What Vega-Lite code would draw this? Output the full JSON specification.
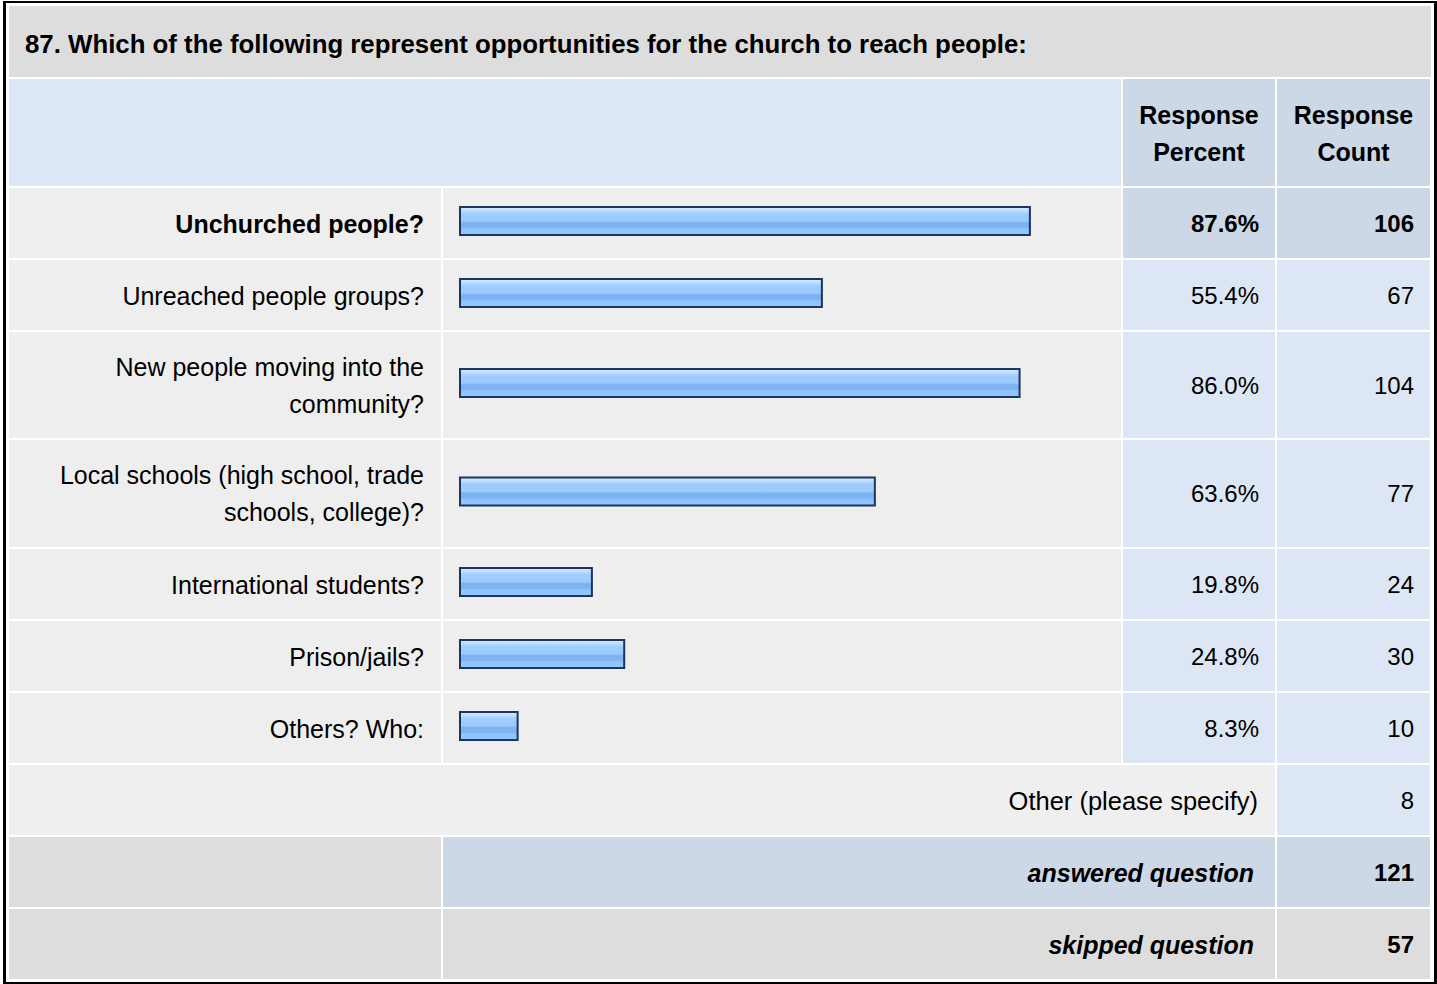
{
"$schema": "https://vega.github.io/schema/vega-lite/v6.json",
"padding": {"left": 3, "top": 1, "right": 0, "bottom": 0},
"background": "white",
"config": {"view": {"stroke": null}, "text": {"font": "Liberation Sans", "fontSize": 24, "color": "#000000", "lineHeight": 37, "baseline": "middle", "dy": 1.5}},
"datasets": {
 "answers": [
  {"row": 1, "label": "Unchurched people?", "percent": 0.876, "count": 106},
  {"row": 2, "label": "Unreached people groups?", "percent": 0.554, "count": 67},
  {"row": 3, "label": ["New people moving into the", "community?"], "percent": 0.860, "count": 104},
  {"row": 4, "label": ["Local schools (high school, trade", "schools, college)?"], "percent": 0.636, "count": 77},
  {"row": 5, "label": "International students?", "percent": 0.198, "count": 24},
  {"row": 6, "label": "Prison/jails?", "percent": 0.248, "count": 30},
  {"row": 7, "label": "Others? Who:", "percent": 0.083, "count": 10}
 ],
 "totals": [
  {"key": "other", "label": "Other (please specify)", "count": 8},
  {"key": "answered", "label": "answered question", "count": 121},
  {"key": "skipped", "label": "skipped question", "count": 57}
 ],
 "blank": [{}]
},
"vconcat": [
 {"width": 1434, "height": 2, "view": {"fill": "#000000"}, "data": {"name": "blank"}, "mark": {"type": "text", "text": "", "fontSize": 0, "dy": 0}},
 {"hconcat": [
  {"width": 3, "height": 979, "view": {"fill": "#000000"}, "data": {"name": "blank"}, "mark": {"type": "text", "text": "", "fontSize": 0, "dy": 0}},
  {"vconcat": [
   {"width": 1422, "height": 1, "data": {"name": "blank"}, "mark": {"type": "text", "text": "", "fontSize": 0, "dy": 0}},
   {"width": 1422, "height": 71, "view": {"fill": "#dddddd"}, "data": {"name": "blank"}, "mark": {"type": "text", "align": "left", "x": 0, "dx": 16, "dy": 3, "fontSize": 25.8, "fontWeight": "bold", "text": "87. Which of the following represent opportunities for the church to reach people:"}},
   {"hconcat": [
    {"width": 1112, "height": 107, "view": {"fill": "#dce6f4"}, "data": {"name": "blank"}, "mark": {"type": "text", "text": "", "fontSize": 0, "dy": 0}},
    {"width": 152, "height": 107, "view": {"fill": "#ccd8e6"}, "data": {"name": "blank"}, "mark": {"type": "text", "align": "center", "fontWeight": "bold", "fontSize": 25, "dy": -16.5, "text": ["Response", "Percent"]}},
    {"width": 153, "height": 107, "view": {"fill": "#ccd8e6"}, "data": {"name": "blank"}, "mark": {"type": "text", "align": "center", "fontWeight": "bold", "fontSize": 25, "dy": -16.5, "text": ["Response", "Count"]}}
   ], "spacing": 2},
   {"hconcat": [
    {"width": 432, "height": 70, "view": {"fill": "#eeeeee"}, "data": {"name": "answers"}, "transform": [{"filter": "datum.row == 1"}], "mark": {"type": "text", "align": "right", "x": "width", "dx": -17, "fontSize": 25, "fontWeight": "bold"}, "encoding": {"text": {"field": "label"}}},
    {"width": 678, "height": 70, "view": {"fill": "#eeeeee"}, "data": {"name": "answers"}, "transform": [{"filter": "datum.row == 1"}], "mark": {"type": "bar", "size": 28, "yOffset": -2, "stroke": "#1b355f", "strokeWidth": 2, "x2Offset": -4, "fill": {"gradient": "linear", "x1": 0, "y1": 0, "x2": 0, "y2": 1, "stops": [{"offset": 0, "color": "#d4eaff"}, {"offset": 0.12, "color": "#c0dfff"}, {"offset": 0.24, "color": "#9fcdff"}, {"offset": 0.5, "color": "#9bcafd"}, {"offset": 0.56, "color": "#7db2f3"}, {"offset": 0.72, "color": "#7db2f3"}, {"offset": 0.78, "color": "#8ec3fd"}, {"offset": 1, "color": "#95c8ff"}]}}, "encoding": {"x": {"field": "percent", "type": "quantitative", "scale": {"domain": [0, 1], "range": [21, 667]}, "axis": null}, "x2": {"datum": 0}, "y": {"field": "row", "type": "nominal", "axis": null, "scale": {"paddingInner": 0, "paddingOuter": 0}}}},
    {"width": 152, "height": 70, "view": {"fill": "#ccd8e6"}, "data": {"name": "answers"}, "transform": [{"filter": "datum.row == 1"}], "mark": {"type": "text", "align": "right", "x": "width", "dx": -16, "fontWeight": "bold"}, "encoding": {"text": {"field": "percent", "type": "quantitative", "format": ".1%"}}},
    {"width": 153, "height": 70, "view": {"fill": "#ccd8e6"}, "data": {"name": "answers"}, "transform": [{"filter": "datum.row == 1"}], "mark": {"type": "text", "align": "right", "x": "width", "dx": -16, "fontWeight": "bold"}, "encoding": {"text": {"field": "count", "type": "quantitative"}}}
   ], "spacing": 2},
   {"hconcat": [
    {"width": 432, "height": 70, "view": {"fill": "#eeeeee"}, "data": {"name": "answers"}, "transform": [{"filter": "datum.row == 2"}], "mark": {"type": "text", "align": "right", "x": "width", "dx": -17, "fontSize": 25}, "encoding": {"text": {"field": "label"}}},
    {"width": 678, "height": 70, "view": {"fill": "#eeeeee"}, "data": {"name": "answers"}, "transform": [{"filter": "datum.row == 2"}], "mark": {"type": "bar", "size": 28, "yOffset": -2, "stroke": "#1b355f", "strokeWidth": 2, "x2Offset": -4, "fill": {"gradient": "linear", "x1": 0, "y1": 0, "x2": 0, "y2": 1, "stops": [{"offset": 0, "color": "#d4eaff"}, {"offset": 0.12, "color": "#c0dfff"}, {"offset": 0.24, "color": "#9fcdff"}, {"offset": 0.5, "color": "#9bcafd"}, {"offset": 0.56, "color": "#7db2f3"}, {"offset": 0.72, "color": "#7db2f3"}, {"offset": 0.78, "color": "#8ec3fd"}, {"offset": 1, "color": "#95c8ff"}]}}, "encoding": {"x": {"field": "percent", "type": "quantitative", "scale": {"domain": [0, 1], "range": [21, 667]}, "axis": null}, "x2": {"datum": 0}, "y": {"field": "row", "type": "nominal", "axis": null, "scale": {"paddingInner": 0, "paddingOuter": 0}}}},
    {"width": 152, "height": 70, "view": {"fill": "#dce6f4"}, "data": {"name": "answers"}, "transform": [{"filter": "datum.row == 2"}], "mark": {"type": "text", "align": "right", "x": "width", "dx": -16}, "encoding": {"text": {"field": "percent", "type": "quantitative", "format": ".1%"}}},
    {"width": 153, "height": 70, "view": {"fill": "#dce6f4"}, "data": {"name": "answers"}, "transform": [{"filter": "datum.row == 2"}], "mark": {"type": "text", "align": "right", "x": "width", "dx": -16}, "encoding": {"text": {"field": "count", "type": "quantitative"}}}
   ], "spacing": 2},
   {"hconcat": [
    {"width": 432, "height": 106, "view": {"fill": "#eeeeee"}, "data": {"name": "answers"}, "transform": [{"filter": "datum.row == 3"}], "mark": {"type": "text", "align": "right", "x": "width", "dx": -17, "dy": -17.5, "fontSize": 25}, "encoding": {"text": {"field": "label"}}},
    {"width": 678, "height": 106, "view": {"fill": "#eeeeee"}, "data": {"name": "answers"}, "transform": [{"filter": "datum.row == 3"}], "mark": {"type": "bar", "size": 28, "yOffset": -2, "stroke": "#1b355f", "strokeWidth": 2, "x2Offset": -4, "fill": {"gradient": "linear", "x1": 0, "y1": 0, "x2": 0, "y2": 1, "stops": [{"offset": 0, "color": "#d4eaff"}, {"offset": 0.12, "color": "#c0dfff"}, {"offset": 0.24, "color": "#9fcdff"}, {"offset": 0.5, "color": "#9bcafd"}, {"offset": 0.56, "color": "#7db2f3"}, {"offset": 0.72, "color": "#7db2f3"}, {"offset": 0.78, "color": "#8ec3fd"}, {"offset": 1, "color": "#95c8ff"}]}}, "encoding": {"x": {"field": "percent", "type": "quantitative", "scale": {"domain": [0, 1], "range": [21, 667]}, "axis": null}, "x2": {"datum": 0}, "y": {"field": "row", "type": "nominal", "axis": null, "scale": {"paddingInner": 0, "paddingOuter": 0}}}},
    {"width": 152, "height": 106, "view": {"fill": "#dce6f4"}, "data": {"name": "answers"}, "transform": [{"filter": "datum.row == 3"}], "mark": {"type": "text", "align": "right", "x": "width", "dx": -16}, "encoding": {"text": {"field": "percent", "type": "quantitative", "format": ".1%"}}},
    {"width": 153, "height": 106, "view": {"fill": "#dce6f4"}, "data": {"name": "answers"}, "transform": [{"filter": "datum.row == 3"}], "mark": {"type": "text", "align": "right", "x": "width", "dx": -16}, "encoding": {"text": {"field": "count", "type": "quantitative"}}}
   ], "spacing": 2},
   {"hconcat": [
    {"width": 432, "height": 107, "view": {"fill": "#eeeeee"}, "data": {"name": "answers"}, "transform": [{"filter": "datum.row == 4"}], "mark": {"type": "text", "align": "right", "x": "width", "dx": -17, "dy": -17.5, "fontSize": 25}, "encoding": {"text": {"field": "label"}}},
    {"width": 678, "height": 107, "view": {"fill": "#eeeeee"}, "data": {"name": "answers"}, "transform": [{"filter": "datum.row == 4"}], "mark": {"type": "bar", "size": 28, "yOffset": -2, "stroke": "#1b355f", "strokeWidth": 2, "x2Offset": -4, "fill": {"gradient": "linear", "x1": 0, "y1": 0, "x2": 0, "y2": 1, "stops": [{"offset": 0, "color": "#d4eaff"}, {"offset": 0.12, "color": "#c0dfff"}, {"offset": 0.24, "color": "#9fcdff"}, {"offset": 0.5, "color": "#9bcafd"}, {"offset": 0.56, "color": "#7db2f3"}, {"offset": 0.72, "color": "#7db2f3"}, {"offset": 0.78, "color": "#8ec3fd"}, {"offset": 1, "color": "#95c8ff"}]}}, "encoding": {"x": {"field": "percent", "type": "quantitative", "scale": {"domain": [0, 1], "range": [21, 667]}, "axis": null}, "x2": {"datum": 0}, "y": {"field": "row", "type": "nominal", "axis": null, "scale": {"paddingInner": 0, "paddingOuter": 0}}}},
    {"width": 152, "height": 107, "view": {"fill": "#dce6f4"}, "data": {"name": "answers"}, "transform": [{"filter": "datum.row == 4"}], "mark": {"type": "text", "align": "right", "x": "width", "dx": -16}, "encoding": {"text": {"field": "percent", "type": "quantitative", "format": ".1%"}}},
    {"width": 153, "height": 107, "view": {"fill": "#dce6f4"}, "data": {"name": "answers"}, "transform": [{"filter": "datum.row == 4"}], "mark": {"type": "text", "align": "right", "x": "width", "dx": -16}, "encoding": {"text": {"field": "count", "type": "quantitative"}}}
   ], "spacing": 2},
   {"hconcat": [
    {"width": 432, "height": 70, "view": {"fill": "#eeeeee"}, "data": {"name": "answers"}, "transform": [{"filter": "datum.row == 5"}], "mark": {"type": "text", "align": "right", "x": "width", "dx": -17, "fontSize": 25}, "encoding": {"text": {"field": "label"}}},
    {"width": 678, "height": 70, "view": {"fill": "#eeeeee"}, "data": {"name": "answers"}, "transform": [{"filter": "datum.row == 5"}], "mark": {"type": "bar", "size": 28, "yOffset": -2, "stroke": "#1b355f", "strokeWidth": 2, "x2Offset": -4, "fill": {"gradient": "linear", "x1": 0, "y1": 0, "x2": 0, "y2": 1, "stops": [{"offset": 0, "color": "#d4eaff"}, {"offset": 0.12, "color": "#c0dfff"}, {"offset": 0.24, "color": "#9fcdff"}, {"offset": 0.5, "color": "#9bcafd"}, {"offset": 0.56, "color": "#7db2f3"}, {"offset": 0.72, "color": "#7db2f3"}, {"offset": 0.78, "color": "#8ec3fd"}, {"offset": 1, "color": "#95c8ff"}]}}, "encoding": {"x": {"field": "percent", "type": "quantitative", "scale": {"domain": [0, 1], "range": [21, 667]}, "axis": null}, "x2": {"datum": 0}, "y": {"field": "row", "type": "nominal", "axis": null, "scale": {"paddingInner": 0, "paddingOuter": 0}}}},
    {"width": 152, "height": 70, "view": {"fill": "#dce6f4"}, "data": {"name": "answers"}, "transform": [{"filter": "datum.row == 5"}], "mark": {"type": "text", "align": "right", "x": "width", "dx": -16}, "encoding": {"text": {"field": "percent", "type": "quantitative", "format": ".1%"}}},
    {"width": 153, "height": 70, "view": {"fill": "#dce6f4"}, "data": {"name": "answers"}, "transform": [{"filter": "datum.row == 5"}], "mark": {"type": "text", "align": "right", "x": "width", "dx": -16}, "encoding": {"text": {"field": "count", "type": "quantitative"}}}
   ], "spacing": 2},
   {"hconcat": [
    {"width": 432, "height": 70, "view": {"fill": "#eeeeee"}, "data": {"name": "answers"}, "transform": [{"filter": "datum.row == 6"}], "mark": {"type": "text", "align": "right", "x": "width", "dx": -17, "fontSize": 25}, "encoding": {"text": {"field": "label"}}},
    {"width": 678, "height": 70, "view": {"fill": "#eeeeee"}, "data": {"name": "answers"}, "transform": [{"filter": "datum.row == 6"}], "mark": {"type": "bar", "size": 28, "yOffset": -2, "stroke": "#1b355f", "strokeWidth": 2, "x2Offset": -4, "fill": {"gradient": "linear", "x1": 0, "y1": 0, "x2": 0, "y2": 1, "stops": [{"offset": 0, "color": "#d4eaff"}, {"offset": 0.12, "color": "#c0dfff"}, {"offset": 0.24, "color": "#9fcdff"}, {"offset": 0.5, "color": "#9bcafd"}, {"offset": 0.56, "color": "#7db2f3"}, {"offset": 0.72, "color": "#7db2f3"}, {"offset": 0.78, "color": "#8ec3fd"}, {"offset": 1, "color": "#95c8ff"}]}}, "encoding": {"x": {"field": "percent", "type": "quantitative", "scale": {"domain": [0, 1], "range": [21, 667]}, "axis": null}, "x2": {"datum": 0}, "y": {"field": "row", "type": "nominal", "axis": null, "scale": {"paddingInner": 0, "paddingOuter": 0}}}},
    {"width": 152, "height": 70, "view": {"fill": "#dce6f4"}, "data": {"name": "answers"}, "transform": [{"filter": "datum.row == 6"}], "mark": {"type": "text", "align": "right", "x": "width", "dx": -16}, "encoding": {"text": {"field": "percent", "type": "quantitative", "format": ".1%"}}},
    {"width": 153, "height": 70, "view": {"fill": "#dce6f4"}, "data": {"name": "answers"}, "transform": [{"filter": "datum.row == 6"}], "mark": {"type": "text", "align": "right", "x": "width", "dx": -16}, "encoding": {"text": {"field": "count", "type": "quantitative"}}}
   ], "spacing": 2},
   {"hconcat": [
    {"width": 432, "height": 70, "view": {"fill": "#eeeeee"}, "data": {"name": "answers"}, "transform": [{"filter": "datum.row == 7"}], "mark": {"type": "text", "align": "right", "x": "width", "dx": -17, "fontSize": 25}, "encoding": {"text": {"field": "label"}}},
    {"width": 678, "height": 70, "view": {"fill": "#eeeeee"}, "data": {"name": "answers"}, "transform": [{"filter": "datum.row == 7"}], "mark": {"type": "bar", "size": 28, "yOffset": -2, "stroke": "#1b355f", "strokeWidth": 2, "x2Offset": -4, "fill": {"gradient": "linear", "x1": 0, "y1": 0, "x2": 0, "y2": 1, "stops": [{"offset": 0, "color": "#d4eaff"}, {"offset": 0.12, "color": "#c0dfff"}, {"offset": 0.24, "color": "#9fcdff"}, {"offset": 0.5, "color": "#9bcafd"}, {"offset": 0.56, "color": "#7db2f3"}, {"offset": 0.72, "color": "#7db2f3"}, {"offset": 0.78, "color": "#8ec3fd"}, {"offset": 1, "color": "#95c8ff"}]}}, "encoding": {"x": {"field": "percent", "type": "quantitative", "scale": {"domain": [0, 1], "range": [21, 667]}, "axis": null}, "x2": {"datum": 0}, "y": {"field": "row", "type": "nominal", "axis": null, "scale": {"paddingInner": 0, "paddingOuter": 0}}}},
    {"width": 152, "height": 70, "view": {"fill": "#dce6f4"}, "data": {"name": "answers"}, "transform": [{"filter": "datum.row == 7"}], "mark": {"type": "text", "align": "right", "x": "width", "dx": -16}, "encoding": {"text": {"field": "percent", "type": "quantitative", "format": ".1%"}}},
    {"width": 153, "height": 70, "view": {"fill": "#dce6f4"}, "data": {"name": "answers"}, "transform": [{"filter": "datum.row == 7"}], "mark": {"type": "text", "align": "right", "x": "width", "dx": -16}, "encoding": {"text": {"field": "count", "type": "quantitative"}}}
   ], "spacing": 2},
   {"hconcat": [
    {"width": 1266, "height": 70, "view": {"fill": "#efefef"}, "data": {"name": "totals"}, "transform": [{"filter": "datum.key == 'other'"}], "mark": {"type": "text", "align": "right", "x": "width", "dx": -17, "fontSize": 25.5}, "encoding": {"text": {"field": "label"}}},
    {"width": 153, "height": 70, "view": {"fill": "#dce6f4"}, "data": {"name": "totals"}, "transform": [{"filter": "datum.key == 'other'"}], "mark": {"type": "text", "align": "right", "x": "width", "dx": -16}, "encoding": {"text": {"field": "count", "type": "quantitative"}}}
   ], "spacing": 2},
   {"hconcat": [
    {"width": 432, "height": 70, "view": {"fill": "#dddddd"}, "data": {"name": "blank"}, "mark": {"type": "text", "text": "", "fontSize": 0, "dy": 0}},
    {"width": 832, "height": 70, "view": {"fill": "#ccd8e6"}, "data": {"name": "totals"}, "transform": [{"filter": "datum.key == 'answered'"}], "mark": {"type": "text", "align": "right", "x": "width", "dx": -21, "fontSize": 25, "fontWeight": "bold", "fontStyle": "italic"}, "encoding": {"text": {"field": "label"}}},
    {"width": 153, "height": 70, "view": {"fill": "#ccd8e6"}, "data": {"name": "totals"}, "transform": [{"filter": "datum.key == 'answered'"}], "mark": {"type": "text", "align": "right", "x": "width", "dx": -16, "fontWeight": "bold"}, "encoding": {"text": {"field": "count", "type": "quantitative"}}}
   ], "spacing": 2},
   {"hconcat": [
    {"width": 432, "height": 70, "view": {"fill": "#dddddd"}, "data": {"name": "blank"}, "mark": {"type": "text", "text": "", "fontSize": 0, "dy": 0}},
    {"width": 832, "height": 70, "view": {"fill": "#dddddd"}, "data": {"name": "totals"}, "transform": [{"filter": "datum.key == 'skipped'"}], "mark": {"type": "text", "align": "right", "x": "width", "dx": -21, "fontSize": 25, "fontWeight": "bold", "fontStyle": "italic"}, "encoding": {"text": {"field": "label"}}},
    {"width": 153, "height": 70, "view": {"fill": "#dddddd"}, "data": {"name": "totals"}, "transform": [{"filter": "datum.key == 'skipped'"}], "mark": {"type": "text", "align": "right", "x": "width", "dx": -16, "fontWeight": "bold"}, "encoding": {"text": {"field": "count", "type": "quantitative"}}}
   ], "spacing": 2},
   {"width": 1422, "height": 1, "data": {"name": "blank"}, "mark": {"type": "text", "text": "", "fontSize": 0, "dy": 0}}
  ], "spacing": 2},
  {"width": 3, "height": 979, "view": {"fill": "#000000"}, "data": {"name": "blank"}, "mark": {"type": "text", "text": "", "fontSize": 0, "dy": 0}}
 ], "spacing": 3},
 {"width": 1434, "height": 2, "view": {"fill": "#000000"}, "data": {"name": "blank"}, "mark": {"type": "text", "text": "", "fontSize": 0, "dy": 0}}
],
"spacing": 0
}
